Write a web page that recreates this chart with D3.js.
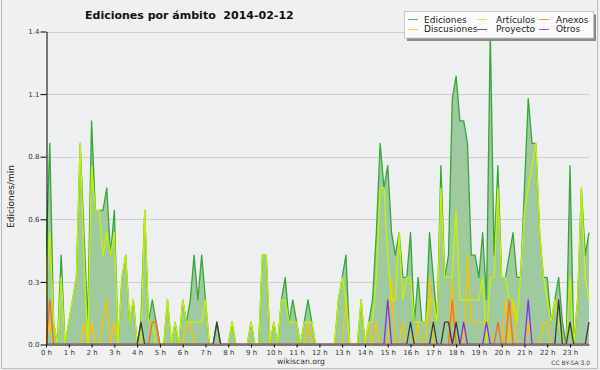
<!DOCTYPE html>
<html><head><meta charset="utf-8">
<script src="https://cdn.jsdelivr.net/npm/d3@7"></script>
<style>
body{margin:0;background:#f0f0f0;}
svg{display:block;}
text{font-family:"DejaVu Sans",sans-serif;}
</style>
</head><body>
<svg id="c" width="600" height="370"></svg>
<script>
// ---- data (10-minute buckets, edits per minute) ----
const xTickLabels = ["0 h","1 h","2 h","3 h","4 h","5 h","6 h","7 h","8 h","9 h","10 h","11 h",
  "12 h","13 h","14 h","15 h","16 h","17 h","18 h","19 h","20 h","21 h","22 h","23 h"];
const yTicks = [0, 0.28, 0.56, 0.84, 1.12, 1.4];
const seriesNames = ["Ediciones","Artículos","Anexos","Discusiones","Proyecto","Otros"];

const ediciones = [
 0.4,0.9,0.1,0,0.4,0,0.1,0.2,0.3,0.9,0.5,0.1,
 1.0,0.6,0.6,0.6,0.7,0.4,0.6,0,0.3,0.4,0.1,0.2,
 0,0.1,0.6,0.1,0.2,0.1,0,0,0.2,0,0.1,0,
 0.2,0.1,0.2,0.4,0.2,0.4,0.2,0,0,0.1,0,0,
 0,0.1,0,0,0,0,0.1,0,0,0.4,0.4,0,
 0.1,0,0.2,0.3,0.1,0.2,0.1,0,0.1,0.2,0.1,0,
 0,0,0,0,0,0.2,0.3,0.4,0,0,0,0.2,
 0,0.1,0.2,0.5,0.9,0.7,0.8,0.5,0.4,0.5,0.3,0.3,
 0.5,0.1,0.3,0.1,0.1,0.5,0.3,0.1,0.8,0.3,0.4,1.1,
 1.2,1.0,1.0,0.9,0.4,0.4,0.3,0.5,0.2,1.4,0.4,0.8,
 0.3,0.3,0.4,0.5,0.3,0.3,0.7,1.1,0.9,0.9,0.5,0.3,
 0.3,0.1,0.2,0.3,0.1,0,0.8,0,0.2,0.7,0.4,0.5];
const articulos = [
 0.2,0.5,0.1,0,0.3,0,0.1,0.2,0.3,0.9,0.4,0,
 0.8,0.6,0.6,0.4,0.5,0.4,0.5,0,0.3,0.4,0.1,0.2,
 0,0,0.6,0.1,0.1,0,0,0,0.2,0,0.1,0,
 0.2,0.1,0.1,0.1,0.1,0.1,0.2,0,0,0,0,0,
 0,0.1,0,0,0,0,0.1,0,0,0.4,0.4,0,
 0.1,0,0.2,0.2,0.1,0.1,0.1,0,0.1,0.1,0.1,0,
 0,0,0,0,0,0.2,0.3,0.2,0,0,0,0.2,
 0,0.1,0.1,0.3,0.7,0.7,0.4,0.2,0.2,0.5,0.2,0.3,
 0.3,0.1,0.1,0.1,0.1,0.2,0.2,0.1,0.7,0.3,0.3,0.3,
 0.6,0.2,0.2,0.2,0.2,0.2,0.2,0.3,0,0.3,0.3,0.7,
 0.3,0.3,0.2,0.2,0.1,0.3,0.6,0.7,0.8,0.9,0.5,0.3,
 0.2,0.1,0.2,0.1,0,0,0.3,0,0.2,0.7,0.3,0.2];
const discusiones = [
 0,0.1,0,0,0,0,0,0,0,0,0.1,0,
 0.1,0,0,0.1,0.2,0,0.1,0,0,0,0,0,
 0,0,0,0,0,0,0,0,0,0,0,0,
 0,0.1,0.1,0,0,0,0,0,0,0,0,0,
 0,0,0,0,0,0,0,0,0,0,0,0,
 0,0,0,0,0,0,0,0,0,0.1,0,0,
 0,0,0,0,0,0,0,0.2,0,0,0,0,
 0,0.1,0,0.1,0,0,0,0.3,0,0,0.1,0,
 0,0,0.1,0,0,0.3,0,0,0,0,0,0.3,
 0,0,0,0.4,0.1,0.1,0.1,0.1,0.1,0,0,0,
 0,0.2,0,0.2,0,0,0,0.1,0,0,0,0.1,
 0.1,0,0,0,0,0,0,0,0,0,0,0];
const anexos = [
 0,0.2,0,0,0,0,0,0,0,0,0,0,
 0,0,0,0,0,0,0,0,0,0,0,0,
 0,0,0,0,0.1,0.1,0,0,0,0,0,0,
 0,0,0,0,0,0,0,0,0,0,0,0,
 0,0,0,0,0,0,0,0,0,0,0,0,
 0,0,0,0,0,0,0,0,0,0,0,0,
 0,0,0,0,0,0,0,0,0,0,0,0,
 0,0,0,0,0,0,0,0,0,0,0,0,
 0,0,0,0,0,0,0,0,0,0,0,0.2,
 0,0,0,0,0,0,0,0,0,0,0,0.1,
 0,0,0.2,0,0,0,0,0,0,0,0,0,
 0,0,0,0,0,0,0,0,0,0,0,0];
const proyecto = [
 0,0,0,0,0,0,0,0,0,0,0,0,
 0,0,0,0,0,0,0,0,0,0,0,0,
 0,0.1,0,0,0,0,0,0,0,0,0,0,
 0,0,0,0,0,0,0,0,0,0.1,0,0,
 0,0,0,0,0,0,0,0,0,0,0,0,
 0,0,0,0,0,0,0,0,0,0,0,0,
 0,0,0,0,0,0,0,0,0,0,0,0,
 0,0,0,0,0,0,0,0,0,0,0,0,
 0.1,0,0,0,0,0,0.1,0,0,0.1,0.1,0,
 0.1,0,0,0,0,0,0,0,0,0,0,0,
 0,0,0,0,0,0,0,0,0,0,0,0,
 0,0,0,0.2,0,0,0.1,0,0,0,0,0.1];
const otros = [
 0,0,0,0,0,0,0,0,0,0,0,0,
 0,0,0,0,0,0,0,0,0,0,0,0,
 0,0,0,0,0,0,0,0,0,0,0,0,
 0,0,0,0,0,0,0,0,0,0,0,0,
 0,0,0,0,0,0,0,0,0,0,0,0,
 0,0,0,0,0,0,0,0,0,0,0,0,
 0,0,0,0,0,0,0,0,0,0,0,0,
 0,0,0,0,0,0,0.2,0,0,0,0,0,
 0,0,0,0,0,0,0,0,0,0,0,0,
 0,0,0.1,0,0,0,0,0,0.1,0,0,0,
 0,0,0,0,0,0,0,0.2,0,0,0,0,
 0,0,0,0,0,0,0,0,0,0,0,0];

// ---- styles ----
const colors = {
  "Ediciones":"#36a636","Artículos":"#c6f200","Anexos":"#ff6a1a",
  "Discusiones":"#f7c600","Proyecto":"#3c3c3c","Otros":"#8a2be8"
};
const seriesData = {
  "Ediciones":ediciones,"Artículos":articulos,"Anexos":anexos,
  "Discusiones":discusiones,"Proyecto":proyecto,"Otros":otros
};

(function(){
const svg = d3.select("#c");
const W = 600, H = 370;
const pL = 46, pR = 589, pT = 31.5, pB = 344.5;

svg.append("rect").attr("width",W).attr("height",H).attr("fill","#f0f0f0");
// frame
svg.append("path").attr("d","M1.5,0 V368.5 H597.5 V0").attr("fill","none").attr("stroke","#bdbdbd");

const x = d3.scaleLinear().domain([0, ediciones.length-1]).range([pL, pR]);
const y = d3.scaleLinear().domain([0, 1.4]).range([pB, pT]);

svg.append("defs").append("clipPath").attr("id","plotclip")
  .append("rect").attr("x",pL).attr("y",0).attr("width",pR-pL+2).attr("height",pB-0.5);

// plot background
svg.append("rect").attr("x",pL).attr("y",pT).attr("width",pR-pL).attr("height",pB-pT).attr("fill","#eeeff1");

// grid
svg.append("g").selectAll("line").data(yTicks.slice(1)).join("line")
  .attr("x1",pL).attr("x2",pR)
  .attr("y1",d=>Math.round(y(d))+0.5).attr("y2",d=>Math.round(y(d))+0.5)
  .attr("stroke","#cfcfcf").attr("stroke-width",1);

const idx = d3.range(ediciones.length);
const plot = svg.append("g").attr("clip-path","url(#plotclip)");
// area for Ediciones
const area = d3.area().x(i=>x(i)).y0(y(0)).y1(i=>y(ediciones[i]));
plot.append("path").datum(idx).attr("d",area).attr("fill","#9fca9f");

const line = arr => d3.line().x(i=>x(i)).y(i=>y(arr[i]));
const drawOrder = ["Ediciones","Discusiones","Artículos","Anexos","Proyecto","Otros"];
drawOrder.forEach(name=>{
  plot.append("path").datum(idx).attr("d",line(seriesData[name]))
    .attr("fill","none").attr("stroke",colors[name]).attr("stroke-width",1.3)
    .attr("stroke-linejoin","round");
});

// axes
const fmt = d3.format(".1f");
const yAxis = d3.axisLeft(y).tickValues(yTicks).tickFormat(fmt).tickSize(6).tickSizeOuter(0).tickPadding(1);
const yMinor = d3.axisLeft(y).tickValues(d3.range(0, 1.4001, 0.07)).tickFormat("").tickSize(3).tickSizeOuter(0);
const gy = svg.append("g").attr("transform",`translate(${pL+0.5},0)`);
gy.call(yMinor); gy.call(yAxis);
const xMinor = d3.axisBottom(x).tickValues(idx).tickFormat("").tickSize(3).tickSizeOuter(0);
const xAxis = d3.axisBottom(x).tickValues(d3.range(0, ediciones.length, 6))
  .tickFormat((d,i)=>xTickLabels[i]).tickSize(3).tickSizeOuter(0).tickPadding(3);
const gx = svg.append("g").attr("transform",`translate(0,${pB})`);
gx.call(xMinor); gx.call(xAxis);
svg.selectAll(".domain").attr("stroke","#000");
svg.selectAll(".tick line").attr("stroke","#000");
svg.selectAll(".tick text").attr("fill","#333").style("font-family","DejaVu Sans").style("font-size","7px");
gy.selectAll(".tick text").attr("dy","0.32em");

// title
svg.append("text").attr("x",85).attr("y",18.5).attr("fill","#111")
  .style("font-size","11px").style("font-weight","bold").style("white-space","pre")
  .text("Ediciones por ámbito  2014-02-12");
// y label
svg.append("text").attr("transform","translate(13.5,196.5) rotate(-90)").attr("text-anchor","middle")
  .attr("fill","#222").style("font-size","9px").text("Ediciones/min");
// footer
svg.append("text").attr("x",301).attr("y",364).attr("text-anchor","middle").attr("fill","#333")
  .style("font-size","7.7px").text("wikiscan.org");
svg.append("text").attr("x",590).attr("y",365).attr("text-anchor","end").attr("fill","#444")
  .style("font-size","6px").text("CC BY-SA 3.0");

// legend
const lg = svg.append("g");
lg.append("rect").attr("x",407).attr("y",14.5).attr("width",189).attr("height",26.5).attr("fill","#8a8a8a");
lg.append("rect").attr("x",404.5).attr("y",11.5).attr("width",189).attr("height",26.5).attr("fill","#fbfbfb").attr("stroke","#cacaca");
const legendItems = [
  {name:"Ediciones", sx:408, tx:424, row:0},
  {name:"Artículos", sx:477, tx:496, row:0},
  {name:"Anexos", sx:539, tx:556, row:0},
  {name:"Discusiones", sx:408, tx:424, row:1},
  {name:"Proyecto", sx:477, tx:496, row:1},
  {name:"Otros", sx:539, tx:556, row:1}
];
legendItems.forEach(it=>{
  const sy = it.row===0 ? 19.5 : 29.5;
  lg.append("line").attr("x1",it.sx).attr("x2",it.sx+10).attr("y1",sy).attr("y2",sy)
    .attr("stroke",colors[it.name]).attr("stroke-width",1).attr("opacity",0.8);
  lg.append("text").attr("x",it.tx).attr("y",it.row===0?22.5:32).attr("fill","#222")
    .style("font-size","9px").text(it.name);
});
})();
</script>
</body></html>
